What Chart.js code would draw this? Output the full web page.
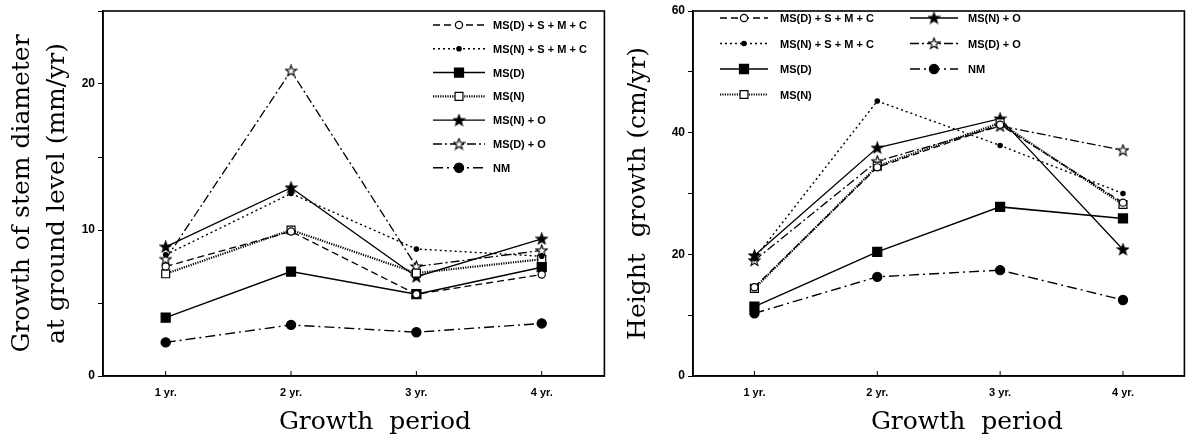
<!DOCTYPE html>
<html>
<head>
<meta charset="utf-8">
<script src="https://cdn.jsdelivr.net/npm/chart.js@4.4.1/dist/chart.umd.min.js"></script>
<style>
  html, body { margin: 0; padding: 0; background: #fff; }
  #wrap { position: relative; width: 1192px; height: 439px; overflow: hidden; background: #fff; }
  #c1 { position: absolute; left: 0; top: 0; }
  #c2 { position: absolute; left: 612px; top: 0; }
</style>
</head>
<body>
<div id="wrap">
  <canvas id="c1" width="612" height="439"></canvas>
  <canvas id="c2" width="580" height="439"></canvas>
</div>
<script>
// categories / labels
const periods = ['1 yr.', '2 yr.', '3 yr.', '4 yr.'];
const treatments = ['MS(D) + S + M + C', 'MS(N) + S + M + C', 'MS(D)', 'MS(N)', 'MS(N) + O', 'MS(D) + O', 'NM'];

// growth of stem diameter at ground level (mm/yr)
const diamMSD_SMC = [7.5, 9.9, 5.6, 6.95];
const diamMSN_SMC = [8.3, 12.5, 8.7, 8.2];
const diamMSD = [4.0, 7.15, 5.6, 7.45];
const diamMSN = [7.0, 10.0, 7.05, 8.0];
const diamMSN_O = [8.85, 12.9, 6.8, 9.4];
const diamMSD_O = [8.0, 20.9, 7.5, 8.6];
const diamNM = [2.3, 3.5, 3.0, 3.6];

// height growth (cm/yr)
const hgtMSD_SMC = [14.6, 34.3, 41.3, 28.5];
const hgtMSN_SMC = [19.3, 45.2, 37.9, 30.0];
const hgtMSD = [11.4, 20.4, 27.8, 25.9];
const hgtMSN = [14.4, 34.5, 41.6, 28.2];
const hgtMSN_O = [19.8, 37.5, 42.3, 20.8];
const hgtMSD_O = [19.0, 35.3, 41.1, 37.1];
const hgtNM = [10.3, 16.3, 17.4, 12.5];

// y tick labels shown
const diamTickLabels = [0, 10, 20];
const hgtTickLabels = [0, 20, 40, 60];

const sansFont = 'Liberation Sans, Arial, sans-serif';
const serifFont = 'DejaVu Serif, serif';

// 5 point star markers (chart.js 'star' is an asterisk)
function makeStar(filled) {
  const c = document.createElement('canvas');
  c.width = 13; c.height = 13;
  const g = c.getContext('2d');
  g.beginPath();
  for (let i = 0; i < 10; i++) {
    const r = i % 2 === 0 ? 5.8 : 2.4;
    const a = -Math.PI / 2 + i * Math.PI / 5;
    const px = 6.5 + r * Math.cos(a), py = 6.8 + r * Math.sin(a);
    if (i === 0) g.moveTo(px, py); else g.lineTo(px, py);
  }
  g.closePath();
  g.fillStyle = filled ? '#000' : '#fff';
  g.fill();
  g.lineWidth = 1.1;
  g.strokeStyle = '#000';
  g.stroke();
  return c;
}
const starFilled = makeStar(true);
const starOpen = makeStar(false);

// line / marker style per treatment
const styles = [
  { dash: [7, 4], lw: 1.3, point: 'circle', r: 3.6, fill: '#fff' },
  { dash: [2, 3], lw: 1.4, point: 'circle', r: 2.2, fill: '#000' },
  { dash: [], lw: 1.5, point: 'rect', r: 6.4, fill: '#000' },
  { dash: [1.2, 1.2], lw: 2.2, point: 'rect', r: 5.6, fill: '#fff' },
  { dash: [], lw: 1.3, point: starFilled, r: 6, fill: '#000' },
  { dash: [9, 3, 2, 3], lw: 1.3, point: starOpen, r: 6, fill: '#fff' },
  { dash: [10, 4, 2, 4], lw: 1.4, point: 'circle', r: 4.6, fill: '#000' },
];

function buildDatasets(series) {
  return series.map((vals, i) => ({
    label: treatments[i],
    data: vals,
    borderColor: '#000',
    borderWidth: styles[i].lw,
    borderDash: styles[i].dash,
    pointStyle: styles[i].point,
    pointRadius: styles[i].r,
    pointBorderWidth: 1.2,
    pointBorderColor: '#000',
    pointBackgroundColor: styles[i].fill,
    fill: false,
    tension: 0,
  }));
}

function drawMarker(ctx, st, x, y) {
  if (typeof st.point !== 'string') {
    ctx.drawImage(st.point, x - st.point.width / 2, y - st.point.height / 2);
    return;
  }
  ctx.setLineDash([]);
  ctx.lineWidth = 1.2;
  ctx.fillStyle = st.fill;
  ctx.beginPath();
  if (st.point === 'circle') {
    ctx.arc(x, y, st.r, 0, Math.PI * 2);
  } else {
    const s = st.r * Math.SQRT1_2;
    ctx.rect(x - s, y - s, 2 * s, 2 * s);
  }
  ctx.fill();
  ctx.stroke();
}

// frame, inner x ticks, x title, legend
const panelPlugin = {
  id: 'panel',
  afterDraw(chart, args, opts) {
    const ctx = chart.ctx, a = chart.chartArea;
    ctx.save();
    ctx.strokeStyle = '#000';
    ctx.lineWidth = 1.6;
    ctx.setLineDash([]);
    ctx.strokeRect(a.left, a.top, a.right - a.left, a.bottom - a.top);

    const xs = chart.scales.x;
    ctx.lineWidth = 1;
    xs.ticks.forEach((t, i) => {
      const px = xs.getPixelForTick(i);
      ctx.beginPath();
      ctx.moveTo(px, a.bottom);
      ctx.lineTo(px, a.bottom - 5);
      ctx.stroke();
    });

    ctx.fillStyle = '#000';
    ctx.font = '25px ' + serifFont;
    ctx.textAlign = 'center';
    ctx.textBaseline = 'middle';
    ctx.fillText(opts.xTitle, opts.xTitleAt[0], opts.xTitleAt[1]);

    ctx.font = 'bold 11px ' + sansFont;
    ctx.textAlign = 'left';
    opts.legendCols.forEach(col => {
      col.items.forEach((idx, k) => {
        const y = col.y + k * col.step;
        const st = styles[idx];
        ctx.strokeStyle = '#000';
        ctx.lineWidth = st.lw;
        ctx.setLineDash(st.dash);
        ctx.beginPath();
        ctx.moveTo(col.x0, y);
        ctx.lineTo(col.x1, y);
        ctx.stroke();
        drawMarker(ctx, st, (col.x0 + col.x1) / 2, y);
        ctx.fillStyle = '#000';
        ctx.fillText(treatments[idx], col.tx, y + 1);
      });
    });
    ctx.restore();
  }
};

function makeChart(id, series, yMax, yStep, tickLabels, yTitle, yw, padRight, titlePad, panelOpts) {
  return new Chart(document.getElementById(id), {
    type: 'line',
    data: { labels: periods, datasets: buildDatasets(series) },
    plugins: [panelPlugin],
    options: {
      responsive: false,
      animation: false,
      events: [],
      layout: { padding: { left: 0, top: 11, right: padRight, bottom: 0 } },
      plugins: {
        legend: { display: false },
        tooltip: { enabled: false },
        panel: panelOpts,
      },
      scales: {
        x: {
          type: 'category',
          offset: true,
          grid: { display: false },
          border: { display: true, color: '#000', width: 1.6 },
          ticks: { color: '#000', padding: 2, font: { family: sansFont, size: 11, weight: 'bold' } },
          afterFit(s) { s.height = 63; },
        },
        y: {
          min: 0,
          max: yMax,
          grid: { drawOnChartArea: false, drawTicks: true, tickLength: 5, color: '#000', lineWidth: 1 },
          border: { display: true, color: '#000', width: 1.6 },
          ticks: {
            stepSize: yStep,
            color: '#000',
            padding: 3,
            font: { family: sansFont, size: 12, weight: 'bold' },
            callback: v => tickLabels.includes(v) ? String(v) : '',
          },
          title: {
            display: true,
            text: yTitle,
            color: '#000',
            padding: { top: titlePad, bottom: 0 },
            font: { family: serifFont, size: 25, lineHeight: 1.4 },
          },
          afterFit(s) { s.width = yw; },
        },
      },
    },
  });
}

makeChart('c1',
  [diamMSD_SMC, diamMSN_SMC, diamMSD, diamMSN, diamMSN_O, diamMSD_O, diamNM],
  25, 5, diamTickLabels,
  ['Growth of stem diameter', 'at ground level (mm/yr)'],
  103, 3, 4.5,
  {
    xTitle: 'Growth  period',
    xTitleAt: [375, 422],
    legendCols: [{ x0: 433, x1: 485, tx: 493, y: 25, step: 23.8, items: [0, 1, 2, 3, 4, 5, 6] }],
  });

makeChart('c2',
  [hgtMSD_SMC, hgtMSN_SMC, hgtMSD, hgtMSN, hgtMSN_O, hgtMSD_O, hgtNM],
  60, 10, hgtTickLabels,
  'Height  growth (cm/yr)',
  81, 2, 8.5,
  {
    xTitle: 'Growth  period',
    xTitleAt: [355, 422],
    legendCols: [
      { x0: 108, x1: 156, tx: 168, y: 18, step: 25.5, items: [0, 1, 2, 3] },
      { x0: 298, x1: 346, tx: 356, y: 18, step: 25.5, items: [4, 5, 6] },
    ],
  });
</script>
</body>
</html>
